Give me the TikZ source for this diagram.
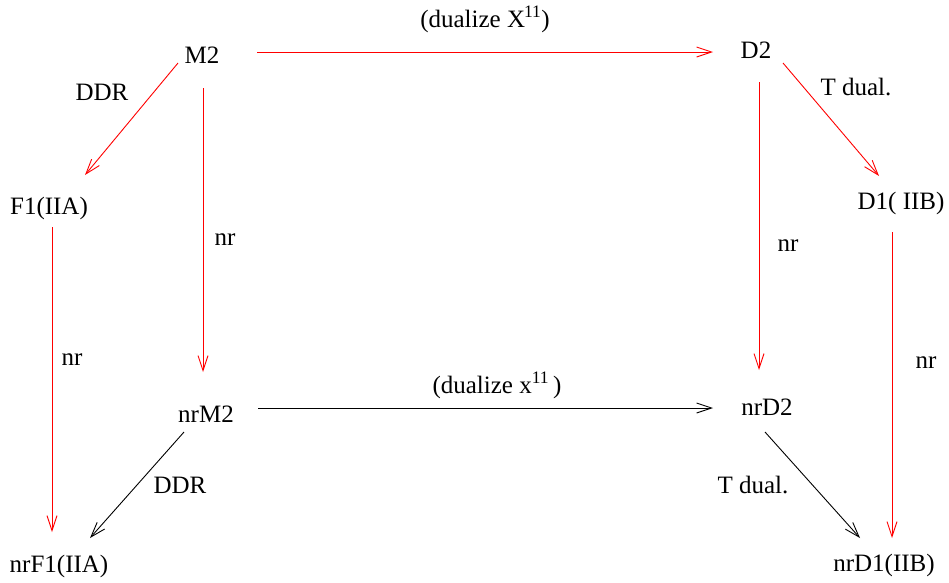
\documentclass[tikz,border=0pt]{standalone}
\usepackage{fontspec}
\setmainfont{Liberation Serif}
\newfontfamily\tmsfont{Liberation Serif}
\usetikzlibrary{arrows.meta,calc}
\tikzset{
  lbl/.style={anchor=base,inner sep=0pt,font=\tmsfont\fontsize{25}{30}\selectfont},
  obj/.style={anchor=base,inner sep=0pt,font=\tmsfont\fontsize{25}{30}\selectfont},
  redarr/.style={draw=red,line width=0.9pt,-{Straight Barb[length=15pt,width=10pt]}},
  blkarr/.style={draw=black,line width=0.9pt,-{Straight Barb[length=15pt,width=10pt]}}
}
\begin{document}
\begin{tikzpicture}[x=1pt,y=-1pt]
\path[use as bounding box] (0,0) rectangle (949,582);
% objects
\node[obj] (M2) at (202,63) {M2};
\node[obj] (D2) at (756,58) {D2};
\node[obj] (F1) at (49,214) {F1(IIA)};
\node[obj] (D1) at (901,209) {D1( IIB)};
\node[obj] (nrM2) at (206,422) {nrM2};
\node[obj] (nrD2) at (767,415) {nrD2};
\node[obj] (nrF1) at (59,572) {nrF1(IIA)};
\node[obj] (nrD1) at (884,571) {nrD1(IIB)};
% labels
\node[lbl] (l1) at (485,27) {(dualize X\kern-1pt\textsuperscript{11})};
\node[lbl] (l2) at (497,393) {(dualize x\textsuperscript{11}\kern4pt)};
\node[lbl] (l3) at (102,100) {DDR};
\node[lbl] (l4) at (225,245) {nr};
\node[lbl] (l5) at (72,365) {nr};
\node[lbl] (l6) at (788,251) {nr};
\node[lbl] (l7) at (926,368) {nr};
\node[lbl] (l8) at (856,95) {T dual.};
\node[lbl] (l9) at (753,493) {T dual.};
\node[lbl] (l10) at (180,493) {DDR};
% red arrows
\draw[redarr] ($(M2.base)+(55,-11)$) -- ($(D2.base)+(-43,-6)$);
\draw[redarr] ($(M2.base)+(-24,0)$) -- ($(F1.base)+(36,-39)$);
\draw[redarr] ($(M2.base)+(1,25)$) -- ($(nrM2.base)+(-3,-50)$);
\draw[redarr] ($(D2.base)+(3,24)$) -- ($(nrD2.base)+(-8,-45)$);
\draw[redarr] ($(D2.base)+(27,5)$) -- ($(D1.base)+(-22,-33)$);
\draw[redarr] ($(D1.base)+(-9,23)$) -- ($(nrD1.base)+(8,-33)$);
\draw[redarr] ($(F1.base)+(3,13)$) -- ($(nrF1.base)+(-7,-40)$);
% black arrows
\draw[blkarr] ($(nrM2.base)+(52,-14)$) -- ($(nrD2.base)+(-54,-7)$);
\draw[blkarr] ($(nrM2.base)+(-22,10)$) -- ($(nrF1.base)+(31,-34)$);
\draw[blkarr] ($(nrD2.base)+(-2,17)$) -- ($(nrD1.base)+(-24,-33)$);
\end{tikzpicture}
\end{document}
